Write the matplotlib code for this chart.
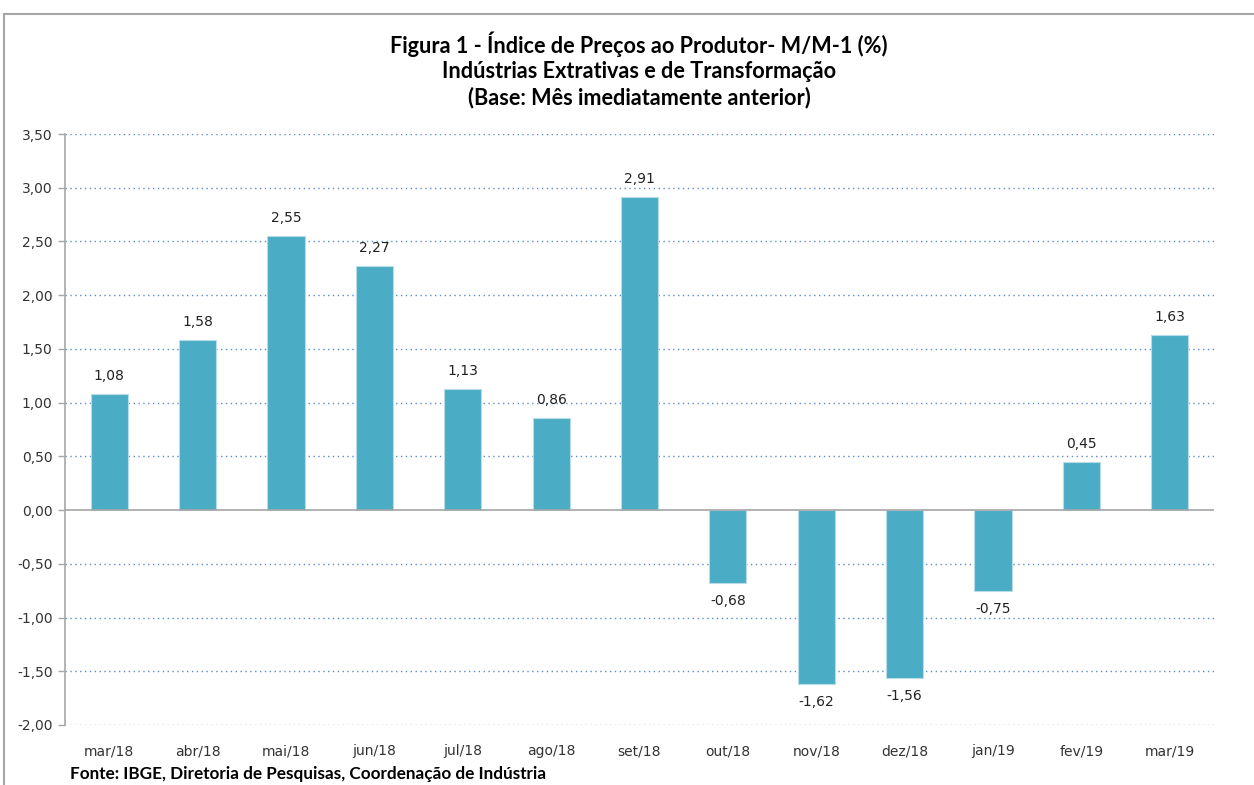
import matplotlib
matplotlib.use("Agg")
import matplotlib.pyplot as plt
from matplotlib.lines import Line2D

categories = ["mar/18", "abr/18", "mai/18", "jun/18", "jul/18", "ago/18", "set/18",
              "out/18", "nov/18", "dez/18", "jan/19", "fev/19", "mar/19"]
values = [1.08, 1.58, 2.55, 2.27, 1.13, 0.86, 2.91, -0.68, -1.62, -1.56, -0.75, 0.45, 1.63]
yticks = [3.5, 3.0, 2.5, 2.0, 1.5, 1.0, 0.5, 0.0, -0.5, -1.0, -1.5, -2.0]

W, H = 1254, 785
fig = plt.figure(figsize=(W / 100, H / 100), dpi=100)

# outer chart frame
fig.add_artist(Line2D([4 / W, 4 / W], [0, 1 - 14 / H], color="#a6a6a6", lw=1.5))
fig.add_artist(Line2D([4 / W, 1], [1 - 14 / H, 1 - 14 / H], color="#a6a6a6", lw=1.5))

left, right, top, bottom = 65, 1214, 134, 725
ax = fig.add_axes([left / W, 1 - bottom / H, (right - left) / W, (bottom - top) / H])

x = list(range(len(categories)))
ax.bar(x, values, width=0.42, color="#4BACC6", edgecolor="#b7dde8", linewidth=0.8, zorder=3)

ax.set_xlim(-0.5, len(categories) - 0.5)
ax.set_ylim(-2.0, 3.5)
ax.set_yticks(yticks)
ax.set_yticklabels([f"{v:.2f}".replace(".", ",") for v in yticks], fontsize=10, color="#333333")
ax.set_xticks(x)
ax.set_xticklabels(categories, fontsize=10, color="#333333")
ax.tick_params(axis="x", length=0, pad=14)
ax.tick_params(axis="y", length=5, width=1, color="#a6a6a6", pad=4)

for v in yticks:
    if v == 0:
        continue
    ax.axhline(v, color="#5b8ccf", lw=1.0, ls=(0, (1, 2.5)), zorder=1)
ax.axhline(0, color="#a6a6a6", lw=1.2, zorder=4)

for s in ["top", "right", "bottom"]:
    ax.spines[s].set_visible(False)
ax.spines["left"].set_color("#a6a6a6")
ax.spines["left"].set_linewidth(1.2)

for xi, v in zip(x, values):
    lab = f"{v:.2f}".replace(".", ",")
    if v >= 0:
        ax.annotate(lab, (xi, v), xytext=(0, 8), textcoords="offset points",
                    ha="center", va="bottom", fontsize=10, color="#222222")
    else:
        ax.annotate(lab, (xi, v), xytext=(0, -8), textcoords="offset points",
                    ha="center", va="top", fontsize=10, color="#222222")

title_font = ["Lato", "DejaVu Sans"]
fig.text(639 / W, 1 - 44 / H, "Figura 1 - Índice de Preços ao Produtor- M/M-1 (%)",
         ha="center", va="center", fontsize=15.6, fontweight="bold", family=title_font)
fig.text(639 / W, 1 - 71 / H, "Indústrias Extrativas e de Transformação",
         ha="center", va="center", fontsize=15.6, fontweight="bold", family=title_font)
fig.text(639 / W, 1 - 98 / H, "(Base: Mês imediatamente anterior)",
         ha="center", va="center", fontsize=15.6, fontweight="bold", family=title_font)
fig.text(70 / W, 1 - 774 / H, "Fonte: IBGE, Diretoria de Pesquisas, Coordenação de Indústria",
         ha="left", va="center", fontsize=12.3, fontweight="bold", family=title_font)

fig.savefig("out.png", dpi=100)
